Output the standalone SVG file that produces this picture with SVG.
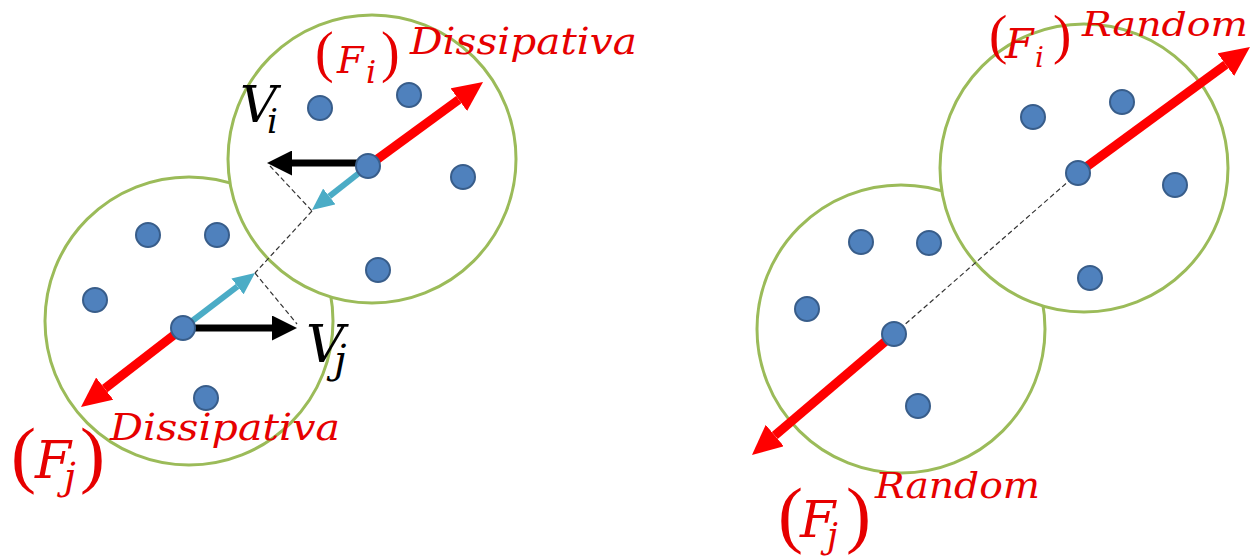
<svg xmlns="http://www.w3.org/2000/svg" width="1251" height="557" viewBox="0 0 1251 557">
<style>
.cell{fill:#fff;stroke:#9BBB59;stroke-width:3}
.dot{fill:#4F81BD;stroke:#385D8A;stroke-width:2}
.red{stroke:#FF0000;stroke-width:9;fill:none}
.blk{stroke:#000;stroke-width:7;fill:none}
.cyn{stroke:#4BACC6;stroke-width:6;fill:none}
.dash{stroke:#333;stroke-width:1.2;stroke-dasharray:5,3;fill:none}
.lbl{font-family:"DejaVu Serif",serif;font-style:italic;fill:#E60000}
.par{font-family:"Liberation Serif",serif;fill:#E60000}
.vel{font-family:"DejaVu Serif",serif;font-style:italic;fill:#000}
</style>
<defs>
<marker id="hRed" markerUnits="userSpaceOnUse" viewBox="0 0 30 28" markerWidth="30" markerHeight="28" refX="0" refY="14" orient="auto"><path d="M0,0 L30,14 L0,28 z" fill="#FF0000"/></marker>
<marker id="hBlk" markerUnits="userSpaceOnUse" viewBox="0 0 25 25" markerWidth="25" markerHeight="25" refX="0" refY="12.5" orient="auto"><path d="M0,0 L25,12.5 L0,25 z" fill="#000"/></marker>
<marker id="hCyn" markerUnits="userSpaceOnUse" viewBox="0 0 22 20" markerWidth="22" markerHeight="20" refX="0" refY="10" orient="auto"><path d="M0,0 L22,10 L0,20 z" fill="#4BACC6"/></marker>
</defs>

<g id="left-cell-j">
<circle class="cell" cx="189" cy="321" r="144"/>
<circle class="dot" cx="148" cy="235" r="12"/>
<circle class="dot" cx="217" cy="235" r="12"/>
<circle class="dot" cx="95" cy="300" r="12"/>
<circle class="dot" cx="206" cy="398" r="12"/>
</g>
<g id="left-cell-i">
<circle class="cell" cx="372" cy="159" r="144"/>
<circle class="dot" cx="320" cy="108" r="12"/>
<circle class="dot" cx="409" cy="95" r="12"/>
<circle class="dot" cx="463" cy="177" r="12"/>
<circle class="dot" cx="378" cy="270" r="12"/>
</g>
<g id="right-cell-j">
<circle class="cell" cx="901" cy="329" r="144"/>
<circle class="dot" cx="861" cy="242" r="12"/>
<circle class="dot" cx="929" cy="243" r="12"/>
<circle class="dot" cx="807" cy="309" r="12"/>
<circle class="dot" cx="918" cy="406" r="12"/>
</g>
<g id="right-cell-i">
<circle class="cell" cx="1084" cy="168" r="144"/>
<circle class="dot" cx="1033" cy="117" r="12"/>
<circle class="dot" cx="1122" cy="102" r="12"/>
<circle class="dot" cx="1175" cy="185" r="12"/>
<circle class="dot" cx="1090" cy="278" r="12"/>
</g>

<g id="connectors">
<path class="dash" d="M312,211 L255,273"/>
<path class="dash" d="M270,166 L312,211"/>
<path class="dash" d="M255,273 L297,324"/>
<path class="dash" d="M1078,173 L894,334"/>
<path class="red" d="M368,166 L458.8,99.7" marker-end="url(#hRed)"/>
<path class="red" d="M183,328 L104.7,388.6" marker-end="url(#hRed)"/>
<path class="blk" d="M368,163 L292,163" marker-end="url(#hBlk)"/>
<path class="blk" d="M183,328 L272,328" marker-end="url(#hBlk)"/>
<path class="cyn" d="M368,166 L329.3,196.4" marker-end="url(#hCyn)"/>
<path class="cyn" d="M183,328 L237.5,286.4" marker-end="url(#hCyn)"/>
<path class="red" d="M1078,173 L1225.8,64.7" marker-end="url(#hRed)"/>
<path class="red" d="M894,334 L774.8,435.5" marker-end="url(#hRed)"/>
</g>

<g id="particles">
<circle class="dot" cx="368" cy="166" r="12"/>
<circle class="dot" cx="183" cy="328" r="12"/>
<circle class="dot" cx="1078" cy="173" r="12"/>
<circle class="dot" cx="894" cy="334" r="12"/>
</g>

<g id="label-Vi">
<text class="vel" x="240" y="122" font-size="51">V</text>
<text class="vel" x="267" y="133" font-size="34">i</text>
</g>
<g id="label-Vj">
<text class="vel" x="306" y="362" font-size="53">V</text>
<text class="vel" x="334" y="373" font-size="40">j</text>
</g>

<g id="label-Fi-diss">
<text class="par" x="315" y="71" font-size="56">(</text>
<text class="lbl" x="337" y="73" font-size="38">F</text>
<text class="lbl" x="366" y="83" font-size="32">i</text>
<text class="par" x="381" y="71" font-size="56">)</text>
<text class="lbl" x="410" y="54" font-size="37" textLength="227" lengthAdjust="spacingAndGlyphs">Dissipativa</text>
</g>
<g id="label-Fj-diss">
<text class="par" x="11" y="479" font-size="75">(</text>
<text class="lbl" x="35" y="478" font-size="52">F</text>
<text class="lbl" x="64" y="489" font-size="38">j</text>
<text class="par" x="80" y="479" font-size="75">)</text>
<text class="lbl" x="110" y="440" font-size="38" textLength="230" lengthAdjust="spacingAndGlyphs">Dissipativa</text>
</g>
<g id="label-Fi-rand">
<text class="par" x="989" y="53" font-size="55">(</text>
<text class="lbl" x="1005" y="58" font-size="41">F</text>
<text class="lbl" x="1035" y="67" font-size="28">i</text>
<text class="par" x="1053" y="53" font-size="55">)</text>
<text class="lbl" x="1082" y="36" font-size="34" textLength="166" lengthAdjust="spacingAndGlyphs">Random</text>
</g>
<g id="label-Fj-rand">
<text class="par" x="778" y="539" font-size="75">(</text>
<text class="lbl" x="800" y="537" font-size="51">F</text>
<text class="lbl" x="827" y="548" font-size="35">j</text>
<text class="par" x="846" y="539" font-size="75">)</text>
<text class="lbl" x="875" y="498" font-size="35" textLength="165" lengthAdjust="spacingAndGlyphs">Random</text>
</g>
</svg>
